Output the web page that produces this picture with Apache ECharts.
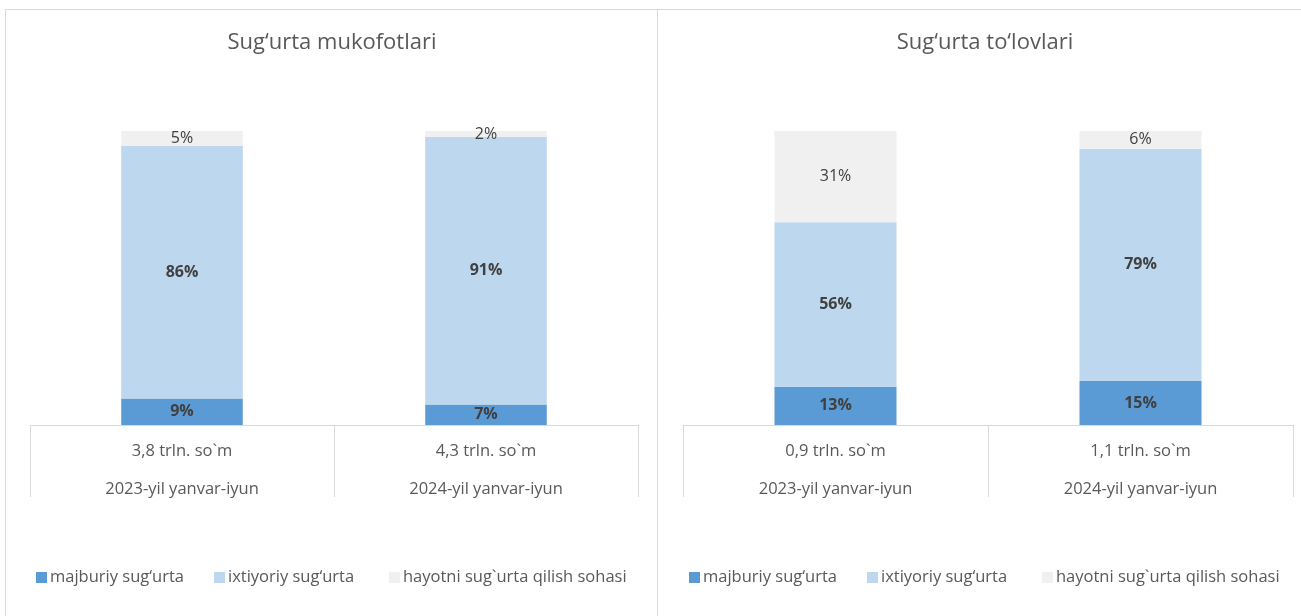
<!DOCTYPE html>
<html>
<head>
<meta charset="utf-8">
<script src="https://cdn.jsdelivr.net/npm/echarts@6/dist/echarts.min.js"></script>
<style>
html,body{margin:0;padding:0;background:#fff;}
#c{width:1301px;height:616px;}
</style>
</head>
<body>
<div id="c"></div>
<script>
// ---- data ----
const titles = ['Sug\u2018urta mukofotlari', 'Sug\u2018urta to\u2018lovlari'];
const periods = ['2023-yil yanvar-iyun', '2024-yil yanvar-iyun'];
const totalsPremiums = ['3,8 trln. so`m', '4,3 trln. so`m'];
const totalsPayments = ['0,9 trln. so`m', '1,1 trln. so`m'];
const seriesNames = ['majburiy sug\u2018urta', 'ixtiyoriy sug\u2018urta', 'hayotni sug`urta qilish sohasi'];
const premMandatory = [9, 7];
const premVoluntary = [86, 91];
const premLife = [5, 2];
const payMandatory = [13, 15];
const payVoluntary = [56, 79];
const payLife = [31, 6];

// ---- styling ----
const FONT = '"Open Sans", sans-serif';
const colors = ['#5B9BD5', '#BDD7EE', '#F0F0F0'];
const grey = '#595959';
const lineC = '#D9D9D9';

function catLabels(totals){
  return totals.map((t,i)=> t + '\n' + periods[i]);
}
function xAxis(gi, totals){
  return {
    type:'category', gridIndex:gi, data:catLabels(totals),
    axisLine:{show:true, lineStyle:{color:lineC, width:1}},
    axisTick:{show:true, length:72, lineStyle:{color:lineC, width:1}},
    axisLabel:{color:grey, fontSize:16.5, fontFamily:FONT, lineHeight:38, margin:7, interval:0}
  };
}
function yAxis(gi){
  return {type:'value', gridIndex:gi, min:0, max:100, show:false, splitLine:{show:false}};
}
function series(gi, vals, idx){
  return {
    name:seriesNames[idx], type:'bar', stack:'s'+gi, xAxisIndex:gi, yAxisIndex:gi,
    data:vals, barWidth:'40%',
    itemStyle:{color:colors[idx]},
    label:{show:true, position:'inside', formatter:'{c}%', color:'#404040',
      fontSize:16, fontFamily:FONT, fontWeight: idx<2 ? 'bold':'normal'}
  };
}
function legendItem(left, idx){
  return {
    left:left, top:564, icon:'rect', itemWidth:11, itemHeight:11, itemGap:0,
    textStyle:{color:grey, fontSize:16.5, fontFamily:FONT, padding:[0,0,0,-2]},
    data:[seriesNames[idx]], selectedMode:false
  };
}

const chart = echarts.init(document.getElementById('c'));
chart.setOption({
  animation:false,
  title:[
    {text:titles[0], left:327, top:27, textAlign:'center', textStyle:{color:grey, fontSize:22, fontWeight:'normal', fontFamily:FONT}},
    {text:titles[1], left:980, top:27, textAlign:'center', textStyle:{color:grey, fontSize:22, fontWeight:'normal', fontFamily:FONT}}
  ],
  grid:[
    {left:30, right:663, top:131, bottom:191},
    {left:683, right:8, top:131, bottom:191}
  ],
  xAxis:[xAxis(0, totalsPremiums), xAxis(1, totalsPayments)],
  yAxis:[yAxis(0), yAxis(1)],
  legend:[
    legendItem(31,0), legendItem(209,1), legendItem(384,2),
    legendItem(684,0), legendItem(862,1), legendItem(1037,2)
  ],
  series:[
    series(0, premMandatory, 0), series(0, premVoluntary, 1), series(0, premLife, 2),
    series(1, payMandatory, 0), series(1, payVoluntary, 1), series(1, payLife, 2)
  ],
  graphic:[
    {type:'line', shape:{x1:5.5, y1:9.5, x2:1301, y2:9.5}, style:{stroke:lineC, lineWidth:1}},
    {type:'line', shape:{x1:5.5, y1:9.5, x2:5.5, y2:616}, style:{stroke:lineC, lineWidth:1}},
    {type:'line', shape:{x1:657.5, y1:9.5, x2:657.5, y2:616}, style:{stroke:lineC, lineWidth:1}}
  ]
});
</script>
</body>
</html>
